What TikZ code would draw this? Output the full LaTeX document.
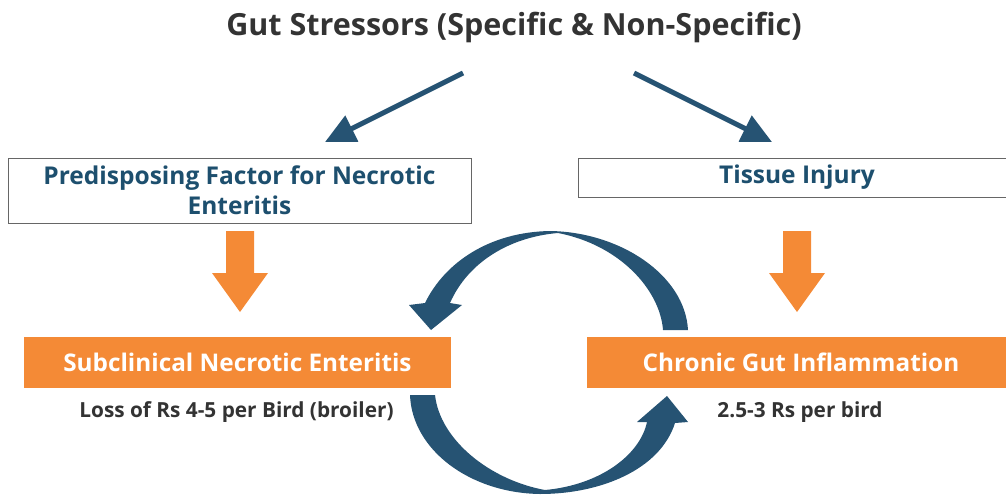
\documentclass[tikz,border=0pt]{standalone}
\usepackage{fontspec}
\setmainfont{Open Sans}
\usetikzlibrary{arrows.meta}
\definecolor{gutblue}{RGB}{38,83,115}
\definecolor{guttext}{RGB}{29,79,110}
\definecolor{gutorange}{RGB}{244,138,54}
\definecolor{gutgray}{RGB}{51,51,51}
\begin{document}
\begin{tikzpicture}[x=1pt,y=-1pt,
  whitebox/.style={draw=gray!80!black,line width=1pt,fill=white,text=guttext,
    font=\fontsize{24.5}{30}\selectfont\bfseries,align=center,inner sep=0pt},
  orangebox/.style={fill=gutorange,text=white,
    font=\fontsize{24.3}{28}\selectfont\bfseries,inner sep=0pt},
  costlabel/.style={text=gutgray,font=\fontsize{20.8}{24}\selectfont\bfseries},
  thinarrow/.style={draw=gutblue,line width=5pt,
    -{Triangle[length=30pt,width=28pt]}}]
\useasboundingbox (0,0) rectangle (1006,495);

\node[text=gutgray,font=\fontsize{30.5}{34}\selectfont\bfseries] (title) at(514,27)
  {Gut Stressors (Specific \& Non-Specific)};

\node[whitebox,minimum width=463pt,minimum height=65pt] (factor) at(239.5,190.5)
  {Predisposing Factor for Necrotic\\Enteritis};
\node[whitebox,minimum width=440pt,minimum height=39pt,anchor=west] (injury) at(578,177.5) {};
\node[text=guttext,font=\fontsize{24.5}{28}\selectfont\bfseries] (injurytext) at(797,177.5) {Tissue Injury};

\node[orangebox,minimum width=427pt,minimum height=51pt] (subclin) at(237.5,362.5)
  {Subclinical Necrotic Enteritis};
\node[orangebox,minimum width=420pt,minimum height=51pt,anchor=west] (chronic) at(587,362.5) {};
\node[text=white,font=\fontsize{24.3}{28}\selectfont\bfseries] (chronictext) at(801,362.5)
  {Chronic Gut Inflammation};

\node[costlabel] (loss) at(236.5,412) {Loss of Rs 4-5 per Bird (broiler)};
\node[costlabel] (cost) at(800,412) {2.5-3 Rs per bird};

% stressor arrows
\coordinate (lstart) at(463,73);
\coordinate (lend) at(325,142);
\coordinate (rstart) at(634,73);
\coordinate (rend) at(772,142);
\draw[thinarrow] (lstart)--(lend);
\draw[thinarrow] (rstart)--(rend);

% block arrows
\foreach \x in {240,797}
  \fill[gutorange] (\x-14,231)--++(28,0)--++(0,42)--++(14,0)--++(-28,39)
  --++(-28,-39)--++(14,0)--cycle;

% loop arrows
\fill[gutblue] (688,330)--(663,330) .. controls (660,290) and (620,245) .. (558,233)
  .. controls (510,237) and (468,262) .. (450,303)--(462,305)--(431,330)--(409,305)
  --(425,303) .. controls (445,262) and (490,232) .. (550,231)
  .. controls (620,232) and (685,275) .. (688,330)--cycle;
\fill[gutblue] (410,395)--(435,395) .. controls (440,440) and (490,480) .. (545,490)
  .. controls (600,485) and (640,455) .. (647,422)--(637,422)--(667,396)--(688,422)
  --(675,423) .. controls (660,470) and (600,494) .. (540,494)
  .. controls (470,493) and (412,450) .. (410,395)--cycle;
\end{tikzpicture}
\end{document}
